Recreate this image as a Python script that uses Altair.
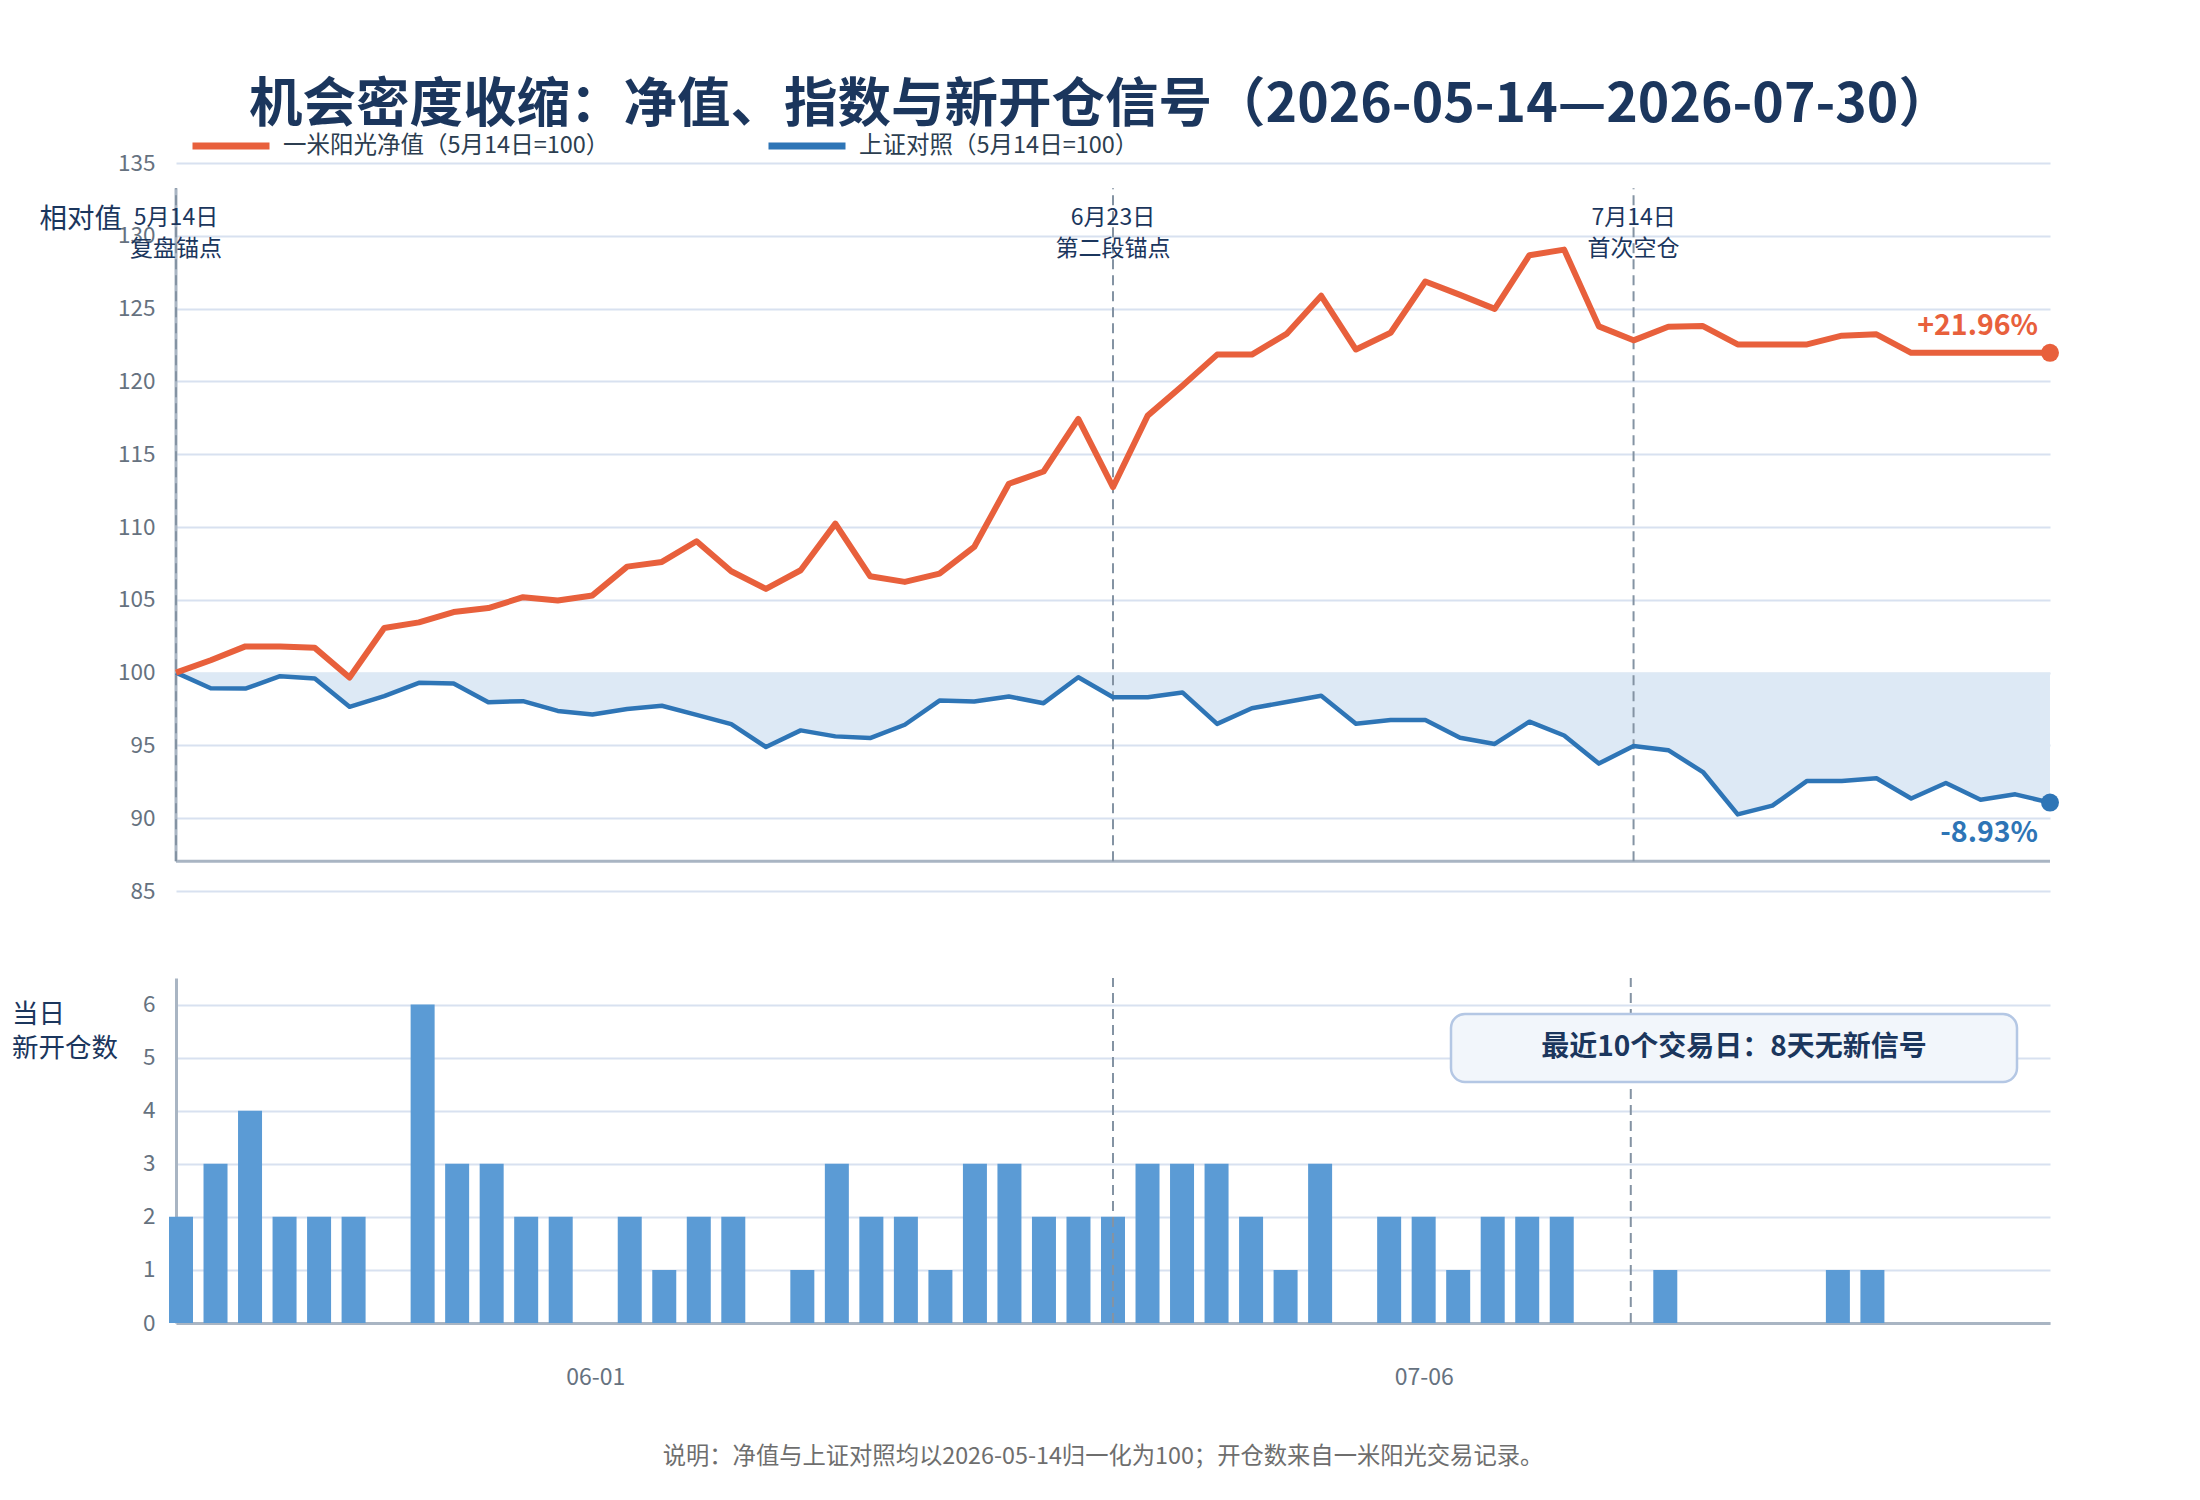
import json
import altair as alt
import pandas as pd

FONT = "Noto Sans CJK SC"

# ---------------- data ----------------
dates = ["05-14", "05-15", "05-18", "05-19", "05-20", "05-21", "05-22", "05-25", "05-26", "05-27",
         "05-28", "05-29", "06-01", "06-02", "06-03", "06-04", "06-05", "06-08", "06-09", "06-10",
         "06-11", "06-12", "06-15", "06-16", "06-17", "06-18", "06-22", "06-23", "06-24", "06-25",
         "06-26", "06-29", "06-30", "07-01", "07-02", "07-03", "07-06", "07-07", "07-08", "07-09",
         "07-10", "07-13", "07-14", "07-15", "07-16", "07-17", "07-20", "07-21", "07-22", "07-23",
         "07-24", "07-27", "07-28", "07-29", "07-30"]

nav = [100.0, 100.85, 101.8, 101.8, 101.7, 99.66, 103.06, 103.45, 104.16, 104.43,
       105.18, 104.95, 105.3, 107.28, 107.6, 109.02, 106.96, 105.75, 107.03, 110.23,
       106.62, 106.23, 106.8, 108.63, 112.97, 113.81, 117.42, 112.74, 117.65, 119.7,
       121.84, 121.84, 123.26, 125.88, 122.19, 123.34, 126.86, 125.94, 124.98, 128.67,
       129.05, 123.78, 122.82, 123.75, 123.8, 122.54, 122.54, 122.54, 123.14, 123.23,
       121.96, 121.96, 121.96, 121.96, 121.96]

sh_index = [100.0, 98.93, 98.9, 99.75, 99.6, 97.65, 98.38, 99.3, 99.25, 97.97,
            98.04, 97.37, 97.12, 97.5, 97.72, 97.1, 96.46, 94.89, 96.03, 95.62,
            95.5, 96.42, 98.08, 98.01, 98.36, 97.9, 99.68, 98.31, 98.31, 98.64,
            96.48, 97.55, 97.98, 98.41, 96.48, 96.74, 96.74, 95.53, 95.1, 96.63,
            95.68, 93.75, 94.96, 94.67, 93.17, 90.26, 90.86, 92.56, 92.56, 92.74,
            91.35, 92.42, 91.27, 91.64, 91.07]

new_positions = [2, 3, 4, 2, 2, 2, 0, 6, 3, 3,
                 2, 2, 0, 2, 1, 2, 2, 0, 1, 3,
                 2, 2, 1, 3, 3, 2, 2, 2, 3, 3,
                 3, 2, 1, 3, 0, 2, 2, 1, 2, 2,
                 2, 0, 0, 1, 0, 0, 0, 0, 1, 1,
                 0, 0, 0, 0, 0]

series_names = ["一米阳光净值（5月14日=100）", "上证对照（5月14日=100）"]
end_labels = ["+21.96%", "-8.93%"]
baseline_value = 100

marker_dates = ["05-14", "06-23", "07-14"]
marker_line1 = ["5月14日", "6月23日", "7月14日"]
marker_line2 = ["复盘锚点", "第二段锚点", "首次空仓"]

x_tick_dates = ["06-01", "07-06"]
y_ticks_top = [85, 90, 95, 100, 105, 110, 115, 120, 125, 130, 135]
y_ticks_bottom = [0, 1, 2, 3, 4, 5, 6]

title_text = "机会密度收缩：净值、指数与新开仓信号（2026-05-14—2026-07-30）"
top_y_title = "相对值"
bottom_y_title = ["当日", "新开仓数"]
note_text = "最近10个交易日：8天无新信号"
footnote_text = "说明：净值与上证对照均以2026-05-14归一化为100；开仓数来自一米阳光交易记录。"

# ---------------- styles ----------------
ORANGE = "#e8603c"
BLUE = "#2e75b6"
BAR = "#5b9bd5"
AREA = "#dde9f5"
GRID = "#d8e1f0"
AXIS = "#a9b5c3"
DASH = "#8493a3"
NAVY = "#1b365d"
TICK = "#66727f"
FOOT = "#6e6e6e"

Y_TOP_DOMAIN = [85, 135]
Y_FRAME = [87.05, 133.26]
Y_BOT_DOMAIN = [0, 6.5]

n = len(dates)
idx = list(range(n))
last = n - 1

nav_df = pd.DataFrame({"idx": idx, "value": nav, "series": series_names[0]})
sh_df = pd.DataFrame({"idx": idx, "value": sh_index, "series": series_names[1]})
area_df = pd.DataFrame({"idx": idx, "sh": sh_index, "base": [baseline_value] * n})
end_nav = pd.DataFrame({"idx": [last], "value": [nav[-1]], "label": [end_labels[0]]})
end_sh = pd.DataFrame({"idx": [last], "value": [sh_index[-1]], "label": [end_labels[1]]})
marker_df = pd.DataFrame({
    "idx": [dates.index(d) for d in marker_dates],
    "line1": marker_line1,
    "line2": marker_line2,
    "ylo": Y_FRAME[0], "yhi": Y_FRAME[1],
    "blo": Y_BOT_DOMAIN[0], "bhi": Y_BOT_DOMAIN[1],
})
frame_df = pd.DataFrame({"x0": [0], "x1": [last], "ylo": [Y_FRAME[0]], "yhi": [Y_FRAME[1]]})
bar_df = pd.DataFrame({"idx": idx, "date": dates, "count": new_positions})
one = pd.DataFrame({"k": [0]})

x_scale = alt.Scale(domain=[0, last], nice=False, zero=False)
y_top_scale = alt.Scale(domain=Y_TOP_DOMAIN, nice=False, zero=False)
y_bot_scale = alt.Scale(domain=Y_BOT_DOMAIN, nice=False)


def XT(field):
    return alt.X(field, type="quantitative", scale=x_scale, axis=None)


def YT(field):
    # shares the top y axis defined on the area layer
    return alt.Y(field, type="quantitative", scale=y_top_scale)


y_top_axis = alt.Axis(
    values=y_ticks_top, grid=True, gridColor=GRID, gridWidth=2, domain=False, ticks=False,
    labelPadding=21, labelFontSize=22.5, labelColor=TICK,
    title=top_y_title, titleAngle=0, titleAlign="left", titleBaseline="middle",
    titleX=-137, titleY=56, titleFontSize=27.5, titleFontWeight="normal", titleColor=NAVY,
)

# ---------------- top panel ----------------
area = alt.Chart(area_df).mark_area(color=AREA, opacity=1).encode(
    x=XT("idx"),
    y=alt.Y("sh:Q", scale=y_top_scale, axis=y_top_axis),
    y2="base:Q",
)

frame_v = alt.Chart(frame_df).mark_rule(color=AXIS, strokeWidth=3).encode(
    x=XT("x0"), y=YT("ylo"), y2="yhi:Q"
)
frame_h = alt.Chart(frame_df).mark_rule(color=AXIS, strokeWidth=3).encode(
    x=XT("x0"), x2="x1:Q", y=YT("ylo")
)
marker_rules = alt.Chart(marker_df).mark_rule(color=DASH, strokeWidth=2, strokeDash=[10, 6]).encode(
    x=XT("idx"), y=YT("ylo"), y2="yhi:Q"
)

color_enc = alt.Color(
    "series:N",
    scale=alt.Scale(domain=series_names, range=[ORANGE, BLUE]),
    legend=alt.Legend(
        title=None, orient="none", direction="horizontal", legendX=13, legendY=-59,
        symbolType="stroke", symbolSize=5929, symbolStrokeWidth=7,
        labelFontSize=23.5, labelColor="#2c3e50", labelOffset=10, columnPadding=144,
        labelLimit=800,
    ),
)

line_sh = alt.Chart(sh_df).mark_line(strokeWidth=4.5, strokeJoin="round").encode(
    x=XT("idx"), y=YT("value"), color=color_enc
)
line_nav = alt.Chart(nav_df).mark_line(strokeWidth=6, strokeJoin="round").encode(
    x=XT("idx"), y=YT("value"), color=color_enc
)

pt_nav = alt.Chart(end_nav).mark_circle(color=ORANGE, opacity=1, size=324).encode(
    x=XT("idx"), y=YT("value")
)
pt_sh = alt.Chart(end_sh).mark_circle(color=BLUE, opacity=1, size=324).encode(
    x=XT("idx"), y=YT("value")
)
lab_nav = alt.Chart(end_nav).mark_text(
    color=ORANGE, fontSize=28.5, fontWeight="bold", align="right", baseline="middle", dx=-12, dy=-27
).encode(x=XT("idx"), y=YT("value"), text="label:N")
lab_sh = alt.Chart(end_sh).mark_text(
    color=BLUE, fontSize=28.5, fontWeight="bold", align="right", baseline="middle", dx=-12, dy=30
).encode(x=XT("idx"), y=YT("value"), text="label:N")

marker_t1 = alt.Chart(marker_df).mark_text(fontSize=23, color=NAVY, baseline="middle").encode(
    x=XT("idx"), y=alt.value(55), text="line1:N"
)
marker_t2 = alt.Chart(marker_df).mark_text(fontSize=23, color=NAVY, baseline="middle").encode(
    x=XT("idx"), y=alt.value(86), text="line2:N"
)

top = alt.layer(
    area, frame_v, frame_h, marker_rules, line_sh, line_nav, pt_nav, pt_sh, lab_nav, lab_sh,
    marker_t1, marker_t2
).properties(width=1874, height=728)

# ---------------- bottom panel ----------------
label_expr = json.dumps(dates, ensure_ascii=False) + "[datum.value]"
x_bot_axis = alt.Axis(
    values=[dates.index(d) for d in x_tick_dates], labelExpr=label_expr,
    grid=False, domain=True, domainColor=AXIS, domainWidth=3, ticks=False,
    labelPadding=43, labelFontSize=23, labelColor=TICK, title=None,
)
y_bot_axis = alt.Axis(
    values=y_ticks_bottom, grid=True, gridColor=GRID, gridWidth=2, domain=True, domainColor=AXIS,
    domainWidth=3, ticks=False, labelPadding=21, labelFontSize=22.5, labelColor=TICK, title=None,
)

bars = alt.Chart(bar_df).mark_bar(size=24, color=BAR).encode(
    x=alt.X("idx:Q", scale=x_scale, axis=x_bot_axis),
    y=alt.Y("count:Q", scale=y_bot_scale, axis=y_bot_axis),
)
bot_rules = alt.Chart(marker_df[marker_df["idx"] > 0]).mark_rule(
    color=DASH, strokeWidth=2, strokeDash=[10, 6]
).encode(
    x=alt.X("idx:Q", scale=x_scale),
    y=alt.Y("blo:Q", scale=y_bot_scale),
    y2="bhi:Q",
)

box = alt.Chart(one).mark_rect(
    cornerRadius=14, fill="#f2f6fb", stroke="#b4c7e4", strokeWidth=2.5
).encode(x=alt.value(1275), x2=alt.value(1841), y=alt.value(36), y2=alt.value(104))
box_text = alt.Chart(one).mark_text(
    fontSize=28, fontWeight="bold", color=NAVY, align="center", baseline="middle"
).encode(x=alt.value(1558), y=alt.value(70), text=alt.value(note_text))

ytitle_1 = alt.Chart(one).mark_text(
    fontSize=26.5, color=NAVY, align="left", baseline="middle"
).encode(x=alt.value(-164), y=alt.value(37), text=alt.value(bottom_y_title[0]))
ytitle_2 = alt.Chart(one).mark_text(
    fontSize=26.5, color=NAVY, align="left", baseline="middle"
).encode(x=alt.value(-164), y=alt.value(71), text=alt.value(bottom_y_title[1]))

bottom = alt.layer(bars, bot_rules, box, box_text, ytitle_1, ytitle_2).properties(
    width=1874, height=345,
    title=alt.TitleParams(
        footnote_text, orient="bottom", anchor="middle", fontSize=23.3, fontWeight="normal",
        color=FOOT, offset=57, dx=-10,
    ),
)

chart = alt.vconcat(top, bottom, spacing=87, bounds="flush").properties(
    title=alt.TitleParams(title_text, fontSize=53.5, fontWeight="bold", color=NAVY, anchor="middle",
                          offset=-29.5, dx=65),
    padding={"left": 4, "top": 71, "right": 10, "bottom": 20},
).configure(font=FONT).configure_view(stroke=None).configure_axis(
    labelFont=FONT, titleFont=FONT
).configure_legend(labelFont=FONT).configure_title(font=FONT)

chart.save("out.html", embed_options={"renderer": "svg", "actions": False})
